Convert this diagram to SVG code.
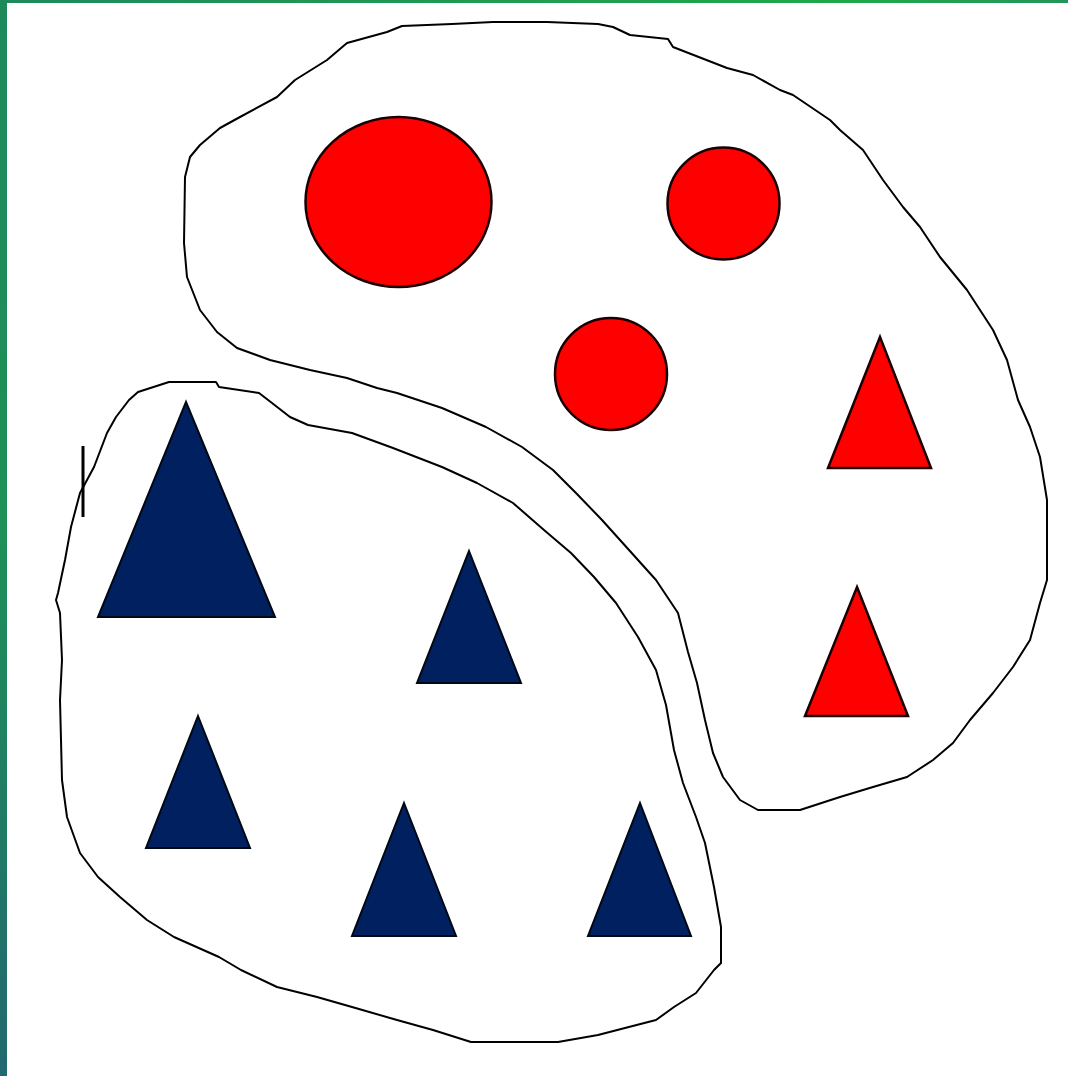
<svg xmlns="http://www.w3.org/2000/svg" width="1068" height="1076" viewBox="0 0 1068 1076">
  <defs>
    <linearGradient id="gTop" x1="0" y1="0" x2="1" y2="0">
      <stop offset="0" stop-color="#1e8a5c"/>
      <stop offset="0.8" stop-color="#21a84a"/>
      <stop offset="1" stop-color="#22965a"/>
    </linearGradient>
    <linearGradient id="gLeft" x1="0" y1="0" x2="0" y2="1">
      <stop offset="0" stop-color="#1e8a5c"/>
      <stop offset="0.5" stop-color="#1e9058"/>
      <stop offset="1" stop-color="#226870"/>
    </linearGradient>
    <style>
      .blob { fill: none; stroke: #000; stroke-width: 2; stroke-linejoin: round; }
      .red { fill: #ff0000; stroke: #1a0000; stroke-width: 2.5; }
      .blue { fill: #002060; stroke: #000814; stroke-width: 2; }
    </style>
  </defs>
  <rect width="1068" height="1076" fill="#ffffff"/>
  <rect x="0" y="0" width="1068" height="3" fill="url(#gTop)"/>
  <rect x="0" y="0" width="7" height="1076" fill="url(#gLeft)"/>

  <g id="cluster-red">
    <path class="blob" d="M402,26 L452,24 L493,22 L547,22 L598,24 L613,27 L630,35 L668,39 L673,47 L727,68 L753,75 L780,90 L793,95 L830,120 L840,130 L863,150 L883,180 L903,207 L920,227 L940,257 L967,290 L993,330 L1007,360 L1018,400 L1030,427 L1040,457 L1047,500 L1047,580 L1040,603 L1030,640 L1013,667 L993,693 L970,720 L953,743 L933,760 L907,777 L873,787 L840,797 L800,810 L758,810 L740,800 L723,777 L713,753 L705,720 L697,683 L688,652 L678,613 L656,580 L629,550 L602,520 L576,493 L553,470 L522,447 L486,427 L442,408 L397,393 L377,388 L347,378 L310,370 L270,360 L237,348 L217,332 L200,310 L187,277 L184,243 L185,177 L190,157 L200,145 L220,128 L240,117 L277,97 L295,80 L327,60 L347,43 L387,32 Z"/>
  </g>
  <g id="cluster-blue">
    <path class="blob" d="M169,382 L216,382 L219,387 L259,393 L272,403 L290,417 L308,425 L352,433 L393,448 L442,467 L477,483 L513,503 L544,530 L571,553 L594,577 L616,603 L638,637 L656,670 L666,705 L674,750 L683,783 L696,817 L705,843 L714,887 L721,927 L721,963 L714,970 L696,993 L674,1007 L656,1020 L625,1028 L598,1035 L558,1042 L471,1042 L433,1030 L397,1020 L352,1007 L317,997 L277,987 L241,970 L219,957 L174,937 L147,920 L120,897 L98,877 L80,853 L67,817 L62,780 L60,700 L62,660 L60,613 L56,600 L58,593 L65,560 L71,527 L80,493 L94,467 L107,433 L116,417 L129,400 L138,392 Z"/>
  </g>
  <g id="mark">
    <line x1="83" y1="446" x2="83" y2="517" stroke="#000" stroke-width="3"/>
  </g>

  <g id="circle-large"><ellipse class="red" cx="398.5" cy="202" rx="93" ry="85"/></g>
  <g id="circle-right"><circle class="red" cx="723.5" cy="203.5" r="56"/></g>
  <g id="circle-middle"><circle class="red" cx="611" cy="374" r="56"/></g>
  <g id="red-triangle-1"><polygon class="red" points="880,337 931,468 828,468"/></g>
  <g id="red-triangle-2"><polygon class="red" points="857,587 908,716 805,716"/></g>

  <g id="blue-triangle-large"><polygon class="blue" points="186,402 275,617 98,617"/></g>
  <g id="blue-triangle-2"><polygon class="blue" points="469,551 521,683 417,683"/></g>
  <g id="blue-triangle-3"><polygon class="blue" points="198,716 250,848 146,848"/></g>
  <g id="blue-triangle-4"><polygon class="blue" points="404,803 456,936 352,936"/></g>
  <g id="blue-triangle-5"><polygon class="blue" points="640,803 691,936 588,936"/></g>
</svg>
